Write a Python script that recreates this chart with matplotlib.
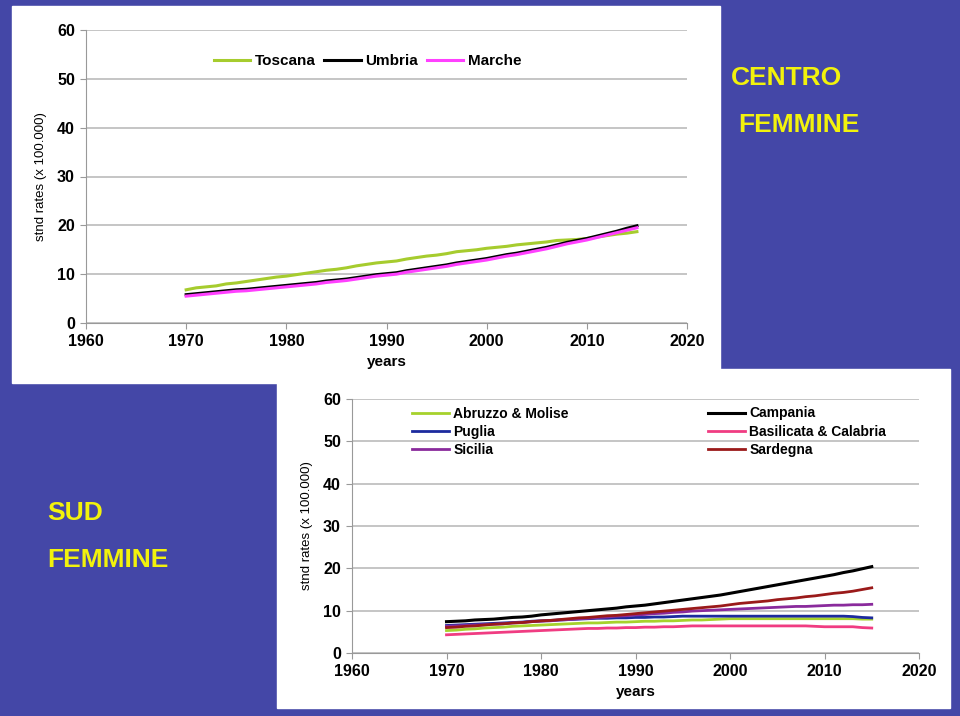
import numpy as np
import matplotlib
matplotlib.use("Agg")
import matplotlib.pyplot as plt
from matplotlib.patches import Rectangle

# data, yearly 1970-2015
years = list(range(1970, 2016))

toscana = [6.8, 7.2, 7.4, 7.6, 8.0, 8.2, 8.5, 8.8, 9.1, 9.4, 9.6, 9.9, 10.2, 10.5, 10.8, 11.0,
           11.3, 11.7, 12.0, 12.3, 12.5, 12.7, 13.1, 13.4, 13.7, 13.9, 14.2, 14.6, 14.8, 15.0,
           15.3, 15.5, 15.7, 16.0, 16.2, 16.4, 16.6, 16.9, 17.0, 17.1, 17.3, 17.6, 17.9, 18.2,
           18.4, 18.7]
umbria = [5.8, 6.0, 6.2, 6.4, 6.6, 6.8, 6.9, 7.1, 7.3, 7.5, 7.7, 7.9, 8.1, 8.3, 8.6, 8.8,
          9.0, 9.3, 9.6, 9.9, 10.1, 10.3, 10.7, 11.0, 11.3, 11.6, 11.9, 12.3, 12.6, 12.9,
          13.2, 13.6, 14.0, 14.3, 14.7, 15.1, 15.5, 16.0, 16.5, 16.9, 17.3, 17.8, 18.3, 18.8,
          19.4, 19.9]
marche = [5.5, 5.7, 5.9, 6.1, 6.3, 6.5, 6.6, 6.8, 7.0, 7.2, 7.4, 7.6, 7.8, 8.0, 8.3, 8.5,
          8.7, 9.0, 9.3, 9.6, 9.8, 10.0, 10.4, 10.7, 11.0, 11.3, 11.6, 12.0, 12.3, 12.6,
          12.9, 13.3, 13.7, 14.0, 14.4, 14.8, 15.2, 15.7, 16.2, 16.6, 17.0, 17.5, 18.0, 18.5,
          19.0, 19.5]

abruzzo = [5.3, 5.4, 5.6, 5.7, 5.9, 6.0, 6.1, 6.3, 6.4, 6.5, 6.6, 6.7, 6.8, 6.9, 7.0, 7.1,
           7.1, 7.2, 7.3, 7.3, 7.4, 7.5, 7.5, 7.6, 7.6, 7.7, 7.8, 7.8, 7.9, 8.0, 8.1, 8.1,
           8.1, 8.1, 8.1, 8.1, 8.1, 8.1, 8.1, 8.1, 8.1, 8.1, 8.1, 8.1, 8.0, 8.0]
puglia = [6.5, 6.6, 6.7, 6.8, 6.9, 7.0, 7.1, 7.2, 7.3, 7.5, 7.6, 7.7, 7.8, 7.9, 8.0, 8.1,
          8.2, 8.2, 8.3, 8.3, 8.4, 8.4, 8.5, 8.5, 8.6, 8.7, 8.7, 8.7, 8.7, 8.7, 8.7, 8.7,
          8.7, 8.7, 8.7, 8.7, 8.7, 8.7, 8.7, 8.7, 8.7, 8.7, 8.7, 8.6, 8.4, 8.3]
sicilia = [6.3, 6.4, 6.5, 6.6, 6.7, 6.8, 6.9, 7.1, 7.2, 7.4, 7.5, 7.6, 7.8, 7.9, 8.1, 8.2,
           8.4, 8.5, 8.7, 8.8, 9.0, 9.1, 9.3, 9.4, 9.6, 9.7, 9.9, 10.0, 10.1, 10.2, 10.3,
           10.4, 10.5, 10.6, 10.7, 10.8, 10.9, 11.0, 11.0, 11.1, 11.2, 11.3, 11.3, 11.4,
           11.4, 11.5]
campania = [7.4, 7.5, 7.6, 7.8, 7.9, 8.0, 8.2, 8.4, 8.5, 8.7, 9.0, 9.2, 9.4, 9.6, 9.8, 10.0,
            10.2, 10.4, 10.6, 10.9, 11.1, 11.3, 11.6, 11.9, 12.2, 12.5, 12.8, 13.1, 13.4,
            13.7, 14.1, 14.5, 14.9, 15.3, 15.7, 16.1, 16.5, 16.9, 17.3, 17.7, 18.1, 18.5,
            19.0, 19.4, 19.9, 20.4]
basil_calabria = [4.3, 4.4, 4.5, 4.6, 4.7, 4.8, 4.9, 5.0, 5.1, 5.2, 5.3, 5.4, 5.5, 5.6, 5.7,
                  5.8, 5.8, 5.9, 5.9, 6.0, 6.0, 6.1, 6.1, 6.2, 6.2, 6.3, 6.4, 6.4, 6.4, 6.4,
                  6.4, 6.4, 6.4, 6.4, 6.4, 6.4, 6.4, 6.4, 6.4, 6.3, 6.2, 6.2, 6.2, 6.2, 6.0, 5.9]
sardegna = [6.0, 6.1, 6.3, 6.4, 6.6, 6.8, 6.9, 7.1, 7.2, 7.4, 7.6, 7.7, 7.9, 8.1, 8.3, 8.4,
            8.6, 8.8, 8.9, 9.1, 9.3, 9.5, 9.7, 9.9, 10.1, 10.3, 10.5, 10.7, 10.9, 11.1, 11.4,
            11.7, 11.9, 12.1, 12.3, 12.6, 12.8, 13.0, 13.3, 13.5, 13.8, 14.1, 14.3, 14.6,
            15.0, 15.4]

xticks = [1960, 1970, 1980, 1990, 2000, 2010, 2020]
yticks = [0, 10, 20, 30, 40, 50, 60]

BLUE = "#4447a7"
YELLOW = "#f2f20c"
W, H = 960, 716

fig = plt.figure(figsize=(9.6, 7.16), dpi=100)
fig.patch.set_facecolor(BLUE)


def px_rect(x0, y0, x1, y1, color):
    fig.patches.append(Rectangle((x0 / W, 1 - y1 / H), (x1 - x0) / W, (y1 - y0) / H,
                                 transform=fig.transFigure, color=color, zorder=-5))


def px_axes(x0, y0, x1, y1):
    return fig.add_axes([x0 / W, 1 - y1 / H, (x1 - x0) / W, (y1 - y0) / H])


# white panels
px_rect(12, 6, 720, 383, "white")
px_rect(277, 369, 950, 708, "white")


def style(ax):
    ax.set_facecolor("none")
    ax.set_xlim(1960, 2020)
    ax.set_ylim(0, 60)
    ax.set_xticks(xticks)
    ax.set_yticks(yticks)
    ax.grid(axis="y", color="#bbbbbb", lw=1.2)
    ax.set_axisbelow(True)
    for s in ["top", "right"]:
        ax.spines[s].set_visible(False)
    for s in ["left", "bottom"]:
        ax.spines[s].set_color("#999999")
    ax.tick_params(color="#999999", length=4, labelsize=11.5, pad=4)
    for lab in ax.get_xticklabels() + ax.get_yticklabels():
        lab.set_fontweight("bold")
        lab.set_fontfamily("Liberation Sans")
    ax.set_xlabel("years", fontsize=11, fontweight="bold", family="Liberation Sans", labelpad=4)
    ax.set_ylabel("stnd rates (x 100.000)", fontsize=9.5,
                  family=["Liberation Sans Narrow", "Liberation Sans"], labelpad=7)


# top chart: CENTRO
ax1 = px_axes(86, 30, 687, 323)
style(ax1)
ax1.plot(years, toscana, color="#a6cc2e", lw=2.2, label="Toscana")
ax1.plot(years, umbria, color="black", lw=2.2, label="Umbria")
ax1.plot(years, marche, color="#ff40ff", lw=2.2, label="Marche")
ax1.legend(loc="center left", bbox_to_anchor=((200 - 86) / 601, (323 - 61) / 293), ncol=3,
           frameon=False, handlelength=2.4, handletextpad=0.3, columnspacing=0.55,
           prop={"family": "Liberation Sans", "weight": "bold", "size": 11})

# bottom chart: SUD
ax2 = px_axes(352, 399, 919, 653)
style(ax2)
ax2.plot(years, abruzzo, color="#a6d22c", lw=2, label="Abruzzo & Molise")
ax2.plot(years, puglia, color="#1c2a9e", lw=2, label="Puglia")
ax2.plot(years, sicilia, color="#8a2a9c", lw=2, label="Sicilia")
ax2.plot(years, basil_calabria, color="#f03c82", lw=2, label="Basilicata & Calabria")
ax2.plot(years, sardegna, color="#9a1a1a", lw=2, label="Sardegna")
ax2.plot(years, campania, color="black", lw=2.2, label="Campania")
h, l = ax2.get_legend_handles_labels()
order = [0, 1, 2, 5, 3, 4]
ax2.legend([h[i] for i in order], [l[i] for i in order], loc="upper left",
           bbox_to_anchor=((399 - 352) / 567, (653 - 394) / 254), ncol=2,
           frameon=False, handlelength=2.7, handletextpad=0.3, columnspacing=10.0,
           labelspacing=0.3,
           prop={"family": "Liberation Sans", "weight": "bold", "size": 10})

# yellow titles
tkw = dict(color=YELLOW, fontsize=19, fontweight="bold", family="Liberation Sans",
           va="center", ha="left")
fig.text(731 / W, 1 - 78 / H, "CENTRO", **tkw)
fig.text(738 / W, 1 - 125 / H, "FEMMINE", **tkw)
fig.text(47 / W, 1 - 513 / H, "SUD", **tkw)
fig.text(47 / W, 1 - 560 / H, "FEMMINE", **tkw)

fig.savefig("out.png", dpi=100, facecolor=fig.get_facecolor())
